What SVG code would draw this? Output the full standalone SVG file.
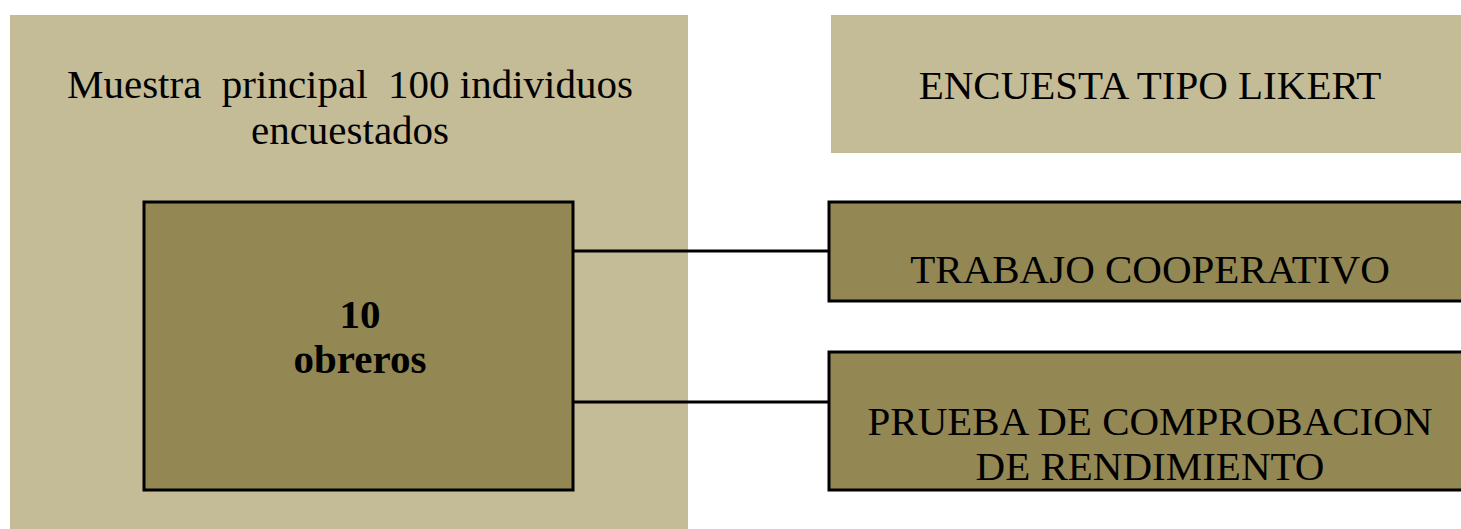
<svg xmlns="http://www.w3.org/2000/svg" width="1461" height="529" viewBox="0 0 1461 529">
  <style>
    .panel { fill: #c4bb97; }
    .box { fill: #938753; stroke: #000; stroke-width: 3; }
    .lbl { font-family: "Liberation Serif", "Times New Roman", serif; font-size: 41px; fill: #000; text-anchor: middle; }
    .bold { font-weight: bold; }
    .link { stroke: #000; stroke-width: 3; fill: none; }
  </style>
  <rect width="1461" height="529" fill="#fff"/>

  <!-- sample panel with the worker group inside -->
  <g id="muestra">
    <rect class="panel" x="10" y="15" width="678" height="514"/>
    <text class="lbl" x="350" y="98" xml:space="preserve">Muestra  principal  100 individuos</text>
    <text class="lbl" x="350" y="144">encuestados</text>
  </g>

  <g id="obreros">
    <rect class="box" x="144" y="202" width="429" height="288"/>
    <text class="lbl bold" x="360" y="328">10</text>
    <text class="lbl bold" x="360" y="373">obreros</text>
  </g>

  <g id="likert">
    <rect class="panel" x="831" y="15" width="640" height="138"/>
    <text class="lbl" x="1150" y="99">ENCUESTA TIPO LIKERT</text>
  </g>

  <g id="cooperativo">
    <rect class="box" x="829" y="202" width="640" height="99"/>
    <text class="lbl" x="1150" y="283">TRABAJO COOPERATIVO</text>
  </g>

  <g id="rendimiento">
    <rect class="box" x="829" y="352" width="640" height="138"/>
    <text class="lbl" x="1150" y="435">PRUEBA DE COMPROBACION</text>
    <text class="lbl" x="1150" y="480">DE RENDIMIENTO</text>
  </g>

  <!-- connectors from the worker group to each instrument -->
  <g id="connectors">
    <line class="link" x1="573" y1="251" x2="829" y2="251"/>
    <line class="link" x1="573" y1="402" x2="829" y2="402"/>
  </g>
</svg>
